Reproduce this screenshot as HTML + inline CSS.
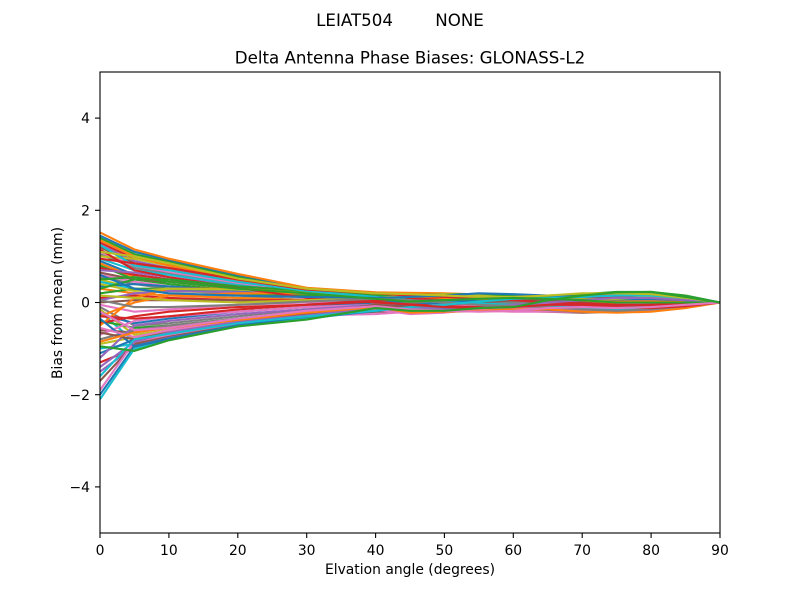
<!DOCTYPE html>
<html><head><meta charset="utf-8"><style>
html,body{margin:0;padding:0;background:#fff;}
svg{display:block;}
text{font-family:"DejaVu Sans","Liberation Sans",sans-serif;fill:#000;}
</style></head><body>
<svg width="800" height="600" viewBox="0 0 800 600" xmlns="http://www.w3.org/2000/svg">
<rect width="800" height="600" fill="#fff"/>
<defs><clipPath id="c"><rect x="100" y="72" width="620" height="461"/></clipPath></defs>
<g clip-path="url(#c)">
<g transform="translate(100,302.5) scale(6.8889,-46.1)" fill="none" stroke-width="2.1" stroke-linejoin="round" stroke-linecap="butt">
<polyline vector-effect="non-scaling-stroke" stroke="#1f77b4" points="0,1.45 5,1.1 10,0.92 20,0.58 30,0.3 40,0.18 50,0.15 60,0.1 70,0.1 80,0.22 90,0"/>
<polyline vector-effect="non-scaling-stroke" stroke="#ff7f0e" points="0,1.52 5,1.15 10,0.95 20,0.62 30,0.32 40,0.22 50,0.2 60,0.15 70,0.15 80,0.2 90,0"/>
<polyline vector-effect="non-scaling-stroke" stroke="#2ca02c" points="0,1.4 5,1.05 10,0.88 20,0.55 30,0.27 40,0.15 50,0.1 60,0.05 70,0.05 80,0.1 90,0"/>
<polyline vector-effect="non-scaling-stroke" stroke="#d62728" points="0,1.3 5,0.95 10,0.82 20,0.5 30,0.24 40,0.12 50,0.05 60,0.0 70,0.0 80,0.05 90,0"/>
<polyline vector-effect="non-scaling-stroke" stroke="#9467bd" points="0,1.25 5,0.9 10,0.75 20,0.45 30,0.2 40,0.1 50,0.1 60,0.05 70,-0.05 80,0.0 90,0"/>
<polyline vector-effect="non-scaling-stroke" stroke="#8c564b" points="0,1.2 5,0.85 10,0.7 20,0.45 30,0.25 40,0.15 50,0.18 60,0.12 70,0.08 80,0.12 90,0"/>
<polyline vector-effect="non-scaling-stroke" stroke="#e377c2" points="0,1.1 5,0.8 10,0.65 20,0.42 30,0.2 40,0.05 50,0.0 60,-0.05 70,-0.1 80,-0.05 90,0"/>
<polyline vector-effect="non-scaling-stroke" stroke="#7f7f7f" points="0,1.05 5,0.75 10,0.62 20,0.38 30,0.15 40,0.08 50,0.05 60,0.0 70,-0.05 80,-0.1 90,0"/>
<polyline vector-effect="non-scaling-stroke" stroke="#bcbd22" points="0,1.0 5,0.95 10,0.8 20,0.5 30,0.3 40,0.2 50,0.15 60,0.1 70,0.12 80,0.18 90,0"/>
<polyline vector-effect="non-scaling-stroke" stroke="#17becf" points="0,0.95 5,0.7 10,0.6 20,0.38 30,0.2 40,0.1 50,0.1 60,0.08 70,0.05 80,0.08 90,0"/>
<polyline vector-effect="non-scaling-stroke" stroke="#1f77b4" points="0,0.9 5,0.6 10,0.5 20,0.3 30,0.15 40,0.05 50,-0.05 60,-0.1 70,-0.15 80,-0.1 90,0"/>
<polyline vector-effect="non-scaling-stroke" stroke="#ff7f0e" points="0,0.85 5,0.55 10,0.45 20,0.3 30,0.18 40,0.1 50,0.05 60,0.02 70,0.0 80,0.0 90,0"/>
<polyline vector-effect="non-scaling-stroke" stroke="#2ca02c" points="0,0.8 5,0.5 10,0.4 20,0.25 30,0.12 40,0.05 50,0.0 60,-0.05 70,-0.08 80,-0.05 90,0"/>
<polyline vector-effect="non-scaling-stroke" stroke="#d62728" points="0,0.75 5,0.6 10,0.5 20,0.35 30,0.25 40,0.15 50,0.1 60,0.1 70,0.15 80,0.2 90,0"/>
<polyline vector-effect="non-scaling-stroke" stroke="#9467bd" points="0,0.7 5,0.65 10,0.55 20,0.35 30,0.2 40,0.1 50,0.05 60,0.05 70,0.1 80,0.15 90,0"/>
<polyline vector-effect="non-scaling-stroke" stroke="#8c564b" points="0,0.65 5,0.5 10,0.45 20,0.3 30,0.2 40,0.12 50,0.1 60,0.05 70,0.0 80,0.05 90,0"/>
<polyline vector-effect="non-scaling-stroke" stroke="#e377c2" points="0,0.6 5,0.45 10,0.35 20,0.2 30,0.1 40,0.0 50,-0.1 60,-0.1 70,-0.12 80,-0.1 90,0"/>
<polyline vector-effect="non-scaling-stroke" stroke="#7f7f7f" points="0,0.55 5,0.4 10,0.3 20,0.15 30,0.05 40,0.0 50,-0.05 60,-0.05 70,-0.02 80,0.02 90,0"/>
<polyline vector-effect="non-scaling-stroke" stroke="#bcbd22" points="0,0.5 5,0.3 10,0.25 20,0.2 30,0.15 40,0.08 50,0.05 60,0.0 70,0.02 80,0.05 90,0"/>
<polyline vector-effect="non-scaling-stroke" stroke="#17becf" points="0,0.45 5,0.3 10,0.2 20,0.1 30,0.05 40,0.0 50,-0.05 60,-0.1 70,-0.12 80,-0.08 90,0"/>
<polyline vector-effect="non-scaling-stroke" stroke="#1f77b4" points="0,0.35 5,0.4 10,0.35 20,0.25 30,0.18 40,0.12 50,0.1 60,0.08 70,0.1 80,0.12 90,0"/>
<polyline vector-effect="non-scaling-stroke" stroke="#ff7f0e" points="0,0.3 5,0.2 10,0.15 20,0.1 30,0.05 40,0.02 50,0.0 60,-0.02 70,-0.05 80,-0.05 90,0"/>
<polyline vector-effect="non-scaling-stroke" stroke="#2ca02c" points="0,0.2 5,0.3 10,0.3 20,0.2 30,0.15 40,0.1 50,0.05 60,0.05 70,0.08 80,0.1 90,0"/>
<polyline vector-effect="non-scaling-stroke" stroke="#d62728" points="0,0.1 5,0.15 10,0.1 20,0.05 30,0.05 40,0.05 50,0.0 60,-0.05 70,-0.1 80,-0.05 90,0"/>
<polyline vector-effect="non-scaling-stroke" stroke="#9467bd" points="0,0.05 5,0.2 10,0.25 20,0.22 30,0.2 40,0.15 50,0.12 60,0.1 70,0.15 80,0.2 90,0"/>
<polyline vector-effect="non-scaling-stroke" stroke="#8c564b" points="0,0.0 5,0.05 10,0.05 20,0.05 30,0.0 40,-0.05 50,-0.1 60,-0.12 70,-0.15 80,-0.1 90,0"/>
<polyline vector-effect="non-scaling-stroke" stroke="#e377c2" points="0,-0.05 5,-0.2 10,-0.15 20,-0.05 30,0.0 40,0.05 50,0.05 60,0.0 70,-0.05 80,-0.02 90,0"/>
<polyline vector-effect="non-scaling-stroke" stroke="#7f7f7f" points="0,-0.1 5,-0.5 10,-0.45 20,-0.3 30,-0.15 40,-0.05 50,0.0 60,0.0 70,0.02 80,0.05 90,0"/>
<polyline vector-effect="non-scaling-stroke" stroke="#bcbd22" points="0,-0.15 5,-0.7 10,-0.6 20,-0.4 30,-0.2 40,0.0 50,0.05 60,0.05 70,0.1 80,0.15 90,0"/>
<polyline vector-effect="non-scaling-stroke" stroke="#17becf" points="0,-0.2 5,-0.85 10,-0.7 20,-0.45 30,-0.3 40,-0.1 50,-0.05 60,-0.05 70,-0.1 80,-0.08 90,0"/>
<polyline vector-effect="non-scaling-stroke" stroke="#1f77b4" points="0,-0.25 5,-0.45 10,-0.35 20,-0.2 30,-0.1 40,0.0 50,0.05 60,0.05 70,0.05 80,0.08 90,0"/>
<polyline vector-effect="non-scaling-stroke" stroke="#ff7f0e" points="0,-0.3 5,0.0 10,0.15 20,0.2 30,0.2 40,0.15 50,0.1 60,0.05 70,0.0 80,0.0 90,0"/>
<polyline vector-effect="non-scaling-stroke" stroke="#2ca02c" points="0,-0.4 5,-0.55 10,-0.5 20,-0.35 30,-0.2 40,-0.1 50,-0.15 60,-0.15 70,-0.15 80,-0.12 90,0"/>
<polyline vector-effect="non-scaling-stroke" stroke="#d62728" points="0,-0.45 5,-0.3 10,-0.2 20,-0.1 30,-0.05 40,0.05 50,0.1 60,0.1 70,0.12 80,0.1 90,0"/>
<polyline vector-effect="non-scaling-stroke" stroke="#ff7f0e" points="0,-0.5 5,0.1 10,0.3 20,0.3 30,0.25 40,0.18 50,0.1 60,0.05 70,0.02 80,0.02 90,0"/>
<polyline vector-effect="non-scaling-stroke" stroke="#8c564b" points="0,-0.6 5,-0.65 10,-0.55 20,-0.4 30,-0.25 40,-0.15 50,-0.2 60,-0.15 70,-0.1 80,-0.05 90,0"/>
<polyline vector-effect="non-scaling-stroke" stroke="#e377c2" points="0,-0.7 5,-0.4 10,-0.3 20,-0.2 30,-0.1 40,-0.05 50,-0.05 60,-0.08 70,-0.12 80,-0.1 90,0"/>
<polyline vector-effect="non-scaling-stroke" stroke="#7f7f7f" points="0,-0.8 5,-0.6 10,-0.5 20,-0.35 30,-0.2 40,-0.05 50,0.0 60,-0.05 70,-0.08 80,-0.05 90,0"/>
<polyline vector-effect="non-scaling-stroke" stroke="#bcbd22" points="0,-0.9 5,-0.75 10,-0.65 20,-0.45 30,-0.3 40,-0.15 50,-0.2 60,-0.18 70,-0.2 80,-0.15 90,0"/>
<polyline vector-effect="non-scaling-stroke" stroke="#17becf" points="0,-1.0 5,-0.9 10,-0.75 20,-0.48 30,-0.32 40,-0.2 50,-0.15 60,-0.12 70,-0.15 80,-0.12 90,0"/>
<polyline vector-effect="non-scaling-stroke" stroke="#1f77b4" points="0,-1.1 5,-0.8 10,-0.7 20,-0.45 30,-0.25 40,-0.1 50,-0.1 60,-0.1 70,-0.18 80,-0.15 90,0"/>
<polyline vector-effect="non-scaling-stroke" stroke="#d62728" points="0,-1.3 5,-1.0 10,-0.8 20,-0.5 30,-0.35 40,-0.15 50,-0.12 60,-0.1 70,-0.15 80,-0.12 90,0"/>
<polyline vector-effect="non-scaling-stroke" stroke="#9467bd" points="0,-1.5 5,-0.95 10,-0.75 20,-0.5 30,-0.33 40,-0.12 50,-0.1 60,-0.15 70,-0.2 80,-0.18 90,0"/>
<polyline vector-effect="non-scaling-stroke" stroke="#8c564b" points="0,-1.7 5,-0.9 10,-0.72 20,-0.48 30,-0.3 40,-0.2 50,-0.2 60,-0.18 70,-0.22 80,-0.18 90,0"/>
<polyline vector-effect="non-scaling-stroke" stroke="#e377c2" points="0,-1.9 5,-0.85 10,-0.7 20,-0.45 30,-0.28 40,-0.25 50,-0.15 60,-0.2 70,-0.2 80,-0.15 90,0"/>
<polyline vector-effect="non-scaling-stroke" stroke="#1f77b4" points="0,-2.0 5,-0.95 10,-0.78 20,-0.5 30,-0.35 40,-0.18 50,-0.12 60,-0.12 70,-0.2 80,-0.15 90,0"/>
<polyline vector-effect="non-scaling-stroke" stroke="#17becf" points="0,-2.1 5,-1.0 10,-0.8 20,-0.5 30,-0.36 40,-0.15 50,-0.1 60,-0.1 70,-0.15 80,-0.1 90,0"/>
<polyline vector-effect="non-scaling-stroke" stroke="#ff7f0e" points="0,1.35 5,1.0 10,0.8 20,0.48 30,0.25 40,0.15 50,0.12 60,0.1 70,0.12 80,0.2 90,0"/>
<polyline vector-effect="non-scaling-stroke" stroke="#bcbd22" points="0,0.4 5,0.25 10,0.3 20,0.28 30,0.22 40,0.15 50,0.15 60,0.12 70,0.18 80,0.23 90,0"/>
<polyline vector-effect="non-scaling-stroke" stroke="#1f77b4" points="0,-0.35 5,-0.95 10,-0.8 20,-0.5 30,-0.3 40,-0.1 50,0.0 60,0.05 70,0.05 80,0.1 90,0"/>
<polyline vector-effect="non-scaling-stroke" stroke="#d62728" points="0,1.15 5,0.7 10,0.55 20,0.32 30,0.1 40,0.0 50,-0.08 60,-0.12 70,-0.18 80,-0.15 90,0"/>
<polyline vector-effect="non-scaling-stroke" stroke="#9467bd" points="0,-1.2 5,-0.5 10,-0.4 20,-0.25 30,-0.15 40,-0.05 50,-0.15 60,-0.12 70,-0.08 80,-0.05 90,0"/>
<polyline vector-effect="non-scaling-stroke" stroke="#2ca02c" points="0,0.3 5,0.5 10,0.5 20,0.35 30,0.25 40,0.15 45,0.15 50,0.18 55,0.18 60,0.15 65,0.12 70,0.18 75,0.23 80,0.23 85,0.15 90,0"/>
<polyline vector-effect="non-scaling-stroke" stroke="#e377c2" points="0,-0.55 5,-0.75 10,-0.6 20,-0.4 30,-0.28 40,-0.15 45,-0.25 50,-0.22 55,-0.15 60,-0.12 65,-0.12 70,-0.18 75,-0.2 80,-0.18 85,-0.1 90,0"/>
<polyline vector-effect="non-scaling-stroke" stroke="#bcbd22" points="0,0.15 5,0.1 10,0.05 20,0.0 30,0.05 40,0.1 45,0.15 50,0.18 55,0.15 60,0.1 65,0.05 70,0.05 75,0.08 80,0.12 85,0.08 90,0"/>
<polyline vector-effect="non-scaling-stroke" stroke="#8c564b" points="0,-0.65 5,-0.8 10,-0.65 20,-0.42 30,-0.25 40,-0.05 45,-0.1 50,-0.05 55,0.0 60,0.05 65,0.05 70,0.0 75,-0.05 80,-0.08 85,-0.05 90,0"/>
<polyline vector-effect="non-scaling-stroke" stroke="#17becf" points="0,1.25 5,0.8 10,0.7 20,0.45 30,0.25 40,0.12 45,0.05 50,0.0 55,-0.02 60,-0.05 65,-0.08 70,-0.12 75,-0.15 80,-0.15 85,-0.08 90,0"/>
<polyline vector-effect="non-scaling-stroke" stroke="#d62728" points="0,0.95 5,0.85 10,0.75 20,0.5 30,0.28 40,0.2 45,0.15 50,0.12 55,0.1 60,0.05 65,0.0 70,-0.02 75,-0.05 80,-0.05 85,-0.02 90,0"/>
<polyline vector-effect="non-scaling-stroke" stroke="#9467bd" points="0,-1.4 5,-0.85 10,-0.65 20,-0.42 30,-0.28 40,-0.12 45,-0.2 50,-0.2 55,-0.12 60,-0.05 65,0.0 70,0.05 75,0.1 80,0.1 85,0.05 90,0"/>
<polyline vector-effect="non-scaling-stroke" stroke="#1f77b4" points="0,0.6 5,0.3 10,0.2 20,0.15 30,0.12 40,0.1 45,0.12 50,0.15 55,0.2 60,0.18 65,0.15 70,0.12 75,0.15 80,0.2 85,0.12 90,0"/>
<polyline vector-effect="non-scaling-stroke" stroke="#ff7f0e" points="0,-0.85 5,-0.65 10,-0.55 20,-0.38 30,-0.22 40,-0.1 45,-0.22 50,-0.2 55,-0.18 60,-0.15 65,-0.15 70,-0.2 75,-0.22 80,-0.2 85,-0.12 90,0"/>
<polyline vector-effect="non-scaling-stroke" stroke="#7f7f7f" points="0,0.05 5,-0.1 10,-0.1 20,-0.05 30,0.02 40,0.08 45,0.05 50,0.0 55,-0.05 60,-0.08 65,-0.1 70,-0.15 75,-0.18 80,-0.15 85,-0.08 90,0"/>
<polyline vector-effect="non-scaling-stroke" stroke="#17becf" points="0,-1.6 5,-0.8 10,-0.68 20,-0.45 30,-0.3 40,-0.18 45,-0.1 50,-0.05 55,0.02 60,0.08 65,0.1 70,0.12 75,0.15 80,0.15 85,0.1 90,0"/>
<polyline vector-effect="non-scaling-stroke" stroke="#bcbd22" points="0,1.1 5,1.0 10,0.85 20,0.52 30,0.3 40,0.2 45,0.18 50,0.15 55,0.12 60,0.12 65,0.15 70,0.2 75,0.2 80,0.18 85,0.1 90,0"/>
<polyline vector-effect="non-scaling-stroke" stroke="#d62728" points="0,-0.3 5,-0.35 10,-0.3 20,-0.15 30,-0.05 40,0.02 45,-0.05 50,-0.1 55,-0.12 60,-0.1 65,-0.05 70,-0.05 75,-0.1 80,-0.12 85,-0.08 90,0"/>
<polyline vector-effect="non-scaling-stroke" stroke="#2ca02c" points="0,0.5 5,0.55 10,0.45 20,0.3 30,0.2 40,0.08 45,0.02 50,0.05 55,0.08 60,0.1 65,0.08 70,0.05 75,0.0 80,0.0 85,0.0 90,0"/>
<polyline vector-effect="non-scaling-stroke" stroke="#e377c2" points="0,-0.2 5,-0.6 10,-0.55 20,-0.35 30,-0.18 40,-0.08 45,-0.15 50,-0.18 55,-0.2 60,-0.18 65,-0.12 70,-0.1 75,-0.12 80,-0.1 85,-0.05 90,0"/>
<polyline vector-effect="non-scaling-stroke" stroke="#2ca02c" points="0,-0.95 5,-1.05 10,-0.82 20,-0.52 30,-0.37 40,-0.12 45,-0.18 50,-0.18 55,-0.12 60,-0.1 65,0.05 70,0.15 75,0.22 80,0.23 85,0.12 90,0"/>
</g>
</g>
<rect x="100" y="72" width="620" height="461" fill="none" stroke="#000" stroke-width="1.1"/>
<g stroke="#000" stroke-width="1.1">
<line x1="100" y1="533" x2="100" y2="538"/>
<line x1="168.9" y1="533" x2="168.9" y2="538"/>
<line x1="237.8" y1="533" x2="237.8" y2="538"/>
<line x1="306.7" y1="533" x2="306.7" y2="538"/>
<line x1="375.6" y1="533" x2="375.6" y2="538"/>
<line x1="444.4" y1="533" x2="444.4" y2="538"/>
<line x1="513.3" y1="533" x2="513.3" y2="538"/>
<line x1="582.2" y1="533" x2="582.2" y2="538"/>
<line x1="651.1" y1="533" x2="651.1" y2="538"/>
<line x1="720" y1="533" x2="720" y2="538"/>
<line x1="95" y1="118.1" x2="100" y2="118.1"/>
<line x1="95" y1="210.3" x2="100" y2="210.3"/>
<line x1="95" y1="302.5" x2="100" y2="302.5"/>
<line x1="95" y1="394.7" x2="100" y2="394.7"/>
<line x1="95" y1="486.9" x2="100" y2="486.9"/>
</g>
<g font-size="13.9" text-anchor="middle">
<text x="100" y="555">0</text>
<text x="168.9" y="555">10</text>
<text x="237.8" y="555">20</text>
<text x="306.7" y="555">30</text>
<text x="375.6" y="555">40</text>
<text x="444.4" y="555">50</text>
<text x="513.3" y="555">60</text>
<text x="582.2" y="555">70</text>
<text x="651.1" y="555">80</text>
<text x="720" y="555">90</text>
</g>
<g font-size="13.9" text-anchor="end">
<text x="90" y="123.2">4</text>
<text x="90" y="215.4">2</text>
<text x="90" y="307.6">0</text>
<text x="90" y="399.8">−2</text>
<text x="90" y="492">−4</text>
</g>
<text x="410" y="574" font-size="13.9" text-anchor="middle">Elvation angle (degrees)</text>
<text transform="translate(62,303) rotate(-90)" font-size="13.9" text-anchor="middle">Bias from mean (mm)</text>
<text x="410" y="63.3" font-size="16.67" text-anchor="middle">Delta Antenna Phase Biases: GLONASS-L2</text>
<text x="400" y="26" font-size="16.67" text-anchor="middle" xml:space="preserve" style="white-space:pre">LEIAT504        NONE</text>
</svg>
</body></html>
